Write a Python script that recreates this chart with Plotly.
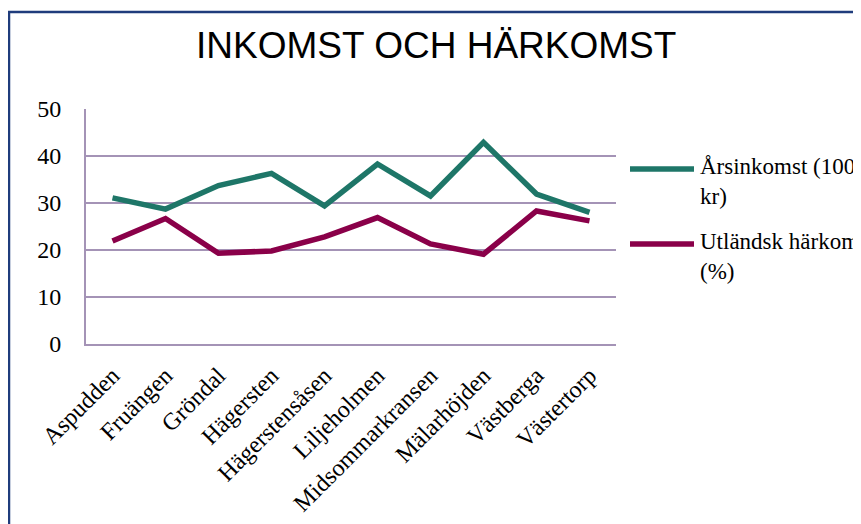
import plotly.graph_objects as go

categories = ["Aspudden", "Fruängen", "Gröndal", "Hägersten", "Hägerstensåsen",
              "Liljeholmen", "Midsommarkransen", "Mälarhöjden", "Västberga", "Västertorp"]
arsinkomst = [31.1, 28.7, 33.7, 36.3, 29.4, 38.3, 31.5, 42.9, 31.9, 28.0]
utlandsk = [21.9, 26.7, 19.3, 19.8, 22.8, 26.9, 21.3, 19.1, 28.3, 26.2]
series_names = ["Årsinkomst (1000<br>kr)", "Utländsk härkomst<br>(%)"]
y_ticks = [0, 10, 20, 30, 40, 50]

TEAL = "#1E7668"
MAGENTA = "#8A0049"
GRID = "#A493B6"
SERIF = "Liberation Serif, Times New Roman, serif"

# figure pixel geometry (page body has an 8px margin)
W, H = 853, 516
PL, PR, PT, PB = 78, 608, 101, 336


def px(fx):
    return (fx - PL) / (PR - PL)


def py(fy):
    return (PB - fy) / (PB - PT)


fig = go.Figure()
fig.add_trace(go.Scatter(x=categories, y=arsinkomst, mode="lines",
                         line=dict(color=TEAL, width=5.5), name="Årsinkomst", showlegend=False))
fig.add_trace(go.Scatter(x=categories, y=utlandsk, mode="lines",
                         line=dict(color=MAGENTA, width=5.5), name="Utländsk härkomst", showlegend=False))

fig.update_layout(
    width=W, height=H,
    margin=dict(l=PL, r=W - PR, t=PT, b=H - PB, autoexpand=False),
    paper_bgcolor="white", plot_bgcolor="white",
    showlegend=False,
    xaxis=dict(type="category", range=[-0.5, len(categories) - 0.5],
               showgrid=False, showline=True, linecolor=GRID, linewidth=2,
               tickangle=-45, tickfont=dict(family=SERIF, size=24, color="black"),
               ticks="", ticklabelstandoff=6, automargin=False),
    yaxis=dict(range=[0, 50], tickvals=y_ticks, showgrid=True, gridcolor=GRID, gridwidth=2,
               showline=True, linecolor=GRID, linewidth=2, zeroline=False,
               tickfont=dict(family=SERIF, size=24, color="black"),
               ticks="", ticklabelstandoff=18, automargin=False),
)

# title
fig.add_annotation(text="INKOMST OCH HÄRKOMST", xref="paper", yref="paper",
                   x=px(427.5), y=py(37.5), xanchor="center", yanchor="middle",
                   showarrow=False,
                   font=dict(family="Liberation Sans, Arial, sans-serif", size=37, color="black"))

# legend (manual)
legend_y = [161, 236]
legend_colors = [TEAL, MAGENTA]
for name, yy, col in zip(series_names, legend_y, legend_colors):
    fig.add_shape(type="line", xref="paper", yref="paper",
                  x0=px(622), x1=px(686), y0=py(yy), y1=py(yy),
                  line=dict(color=col, width=5.5))
    fig.add_annotation(text=name, xref="paper", yref="paper",
                       x=px(690), y=py(yy - 17), xanchor="left", yanchor="top",
                       align="left", showarrow=False,
                       font=dict(family=SERIF, size=23, color="black"))

# outer frame (blue border)
fig.add_shape(type="path", xref="paper", yref="paper",
              path="M %f %f L %f %f L %f %f L %f %f" % (
                  px(1), py(600), px(1), py(4), px(849), py(4), px(849), py(600)),
              line=dict(color="#1F3C7C", width=2.5))

fig.write_html("out.html")
